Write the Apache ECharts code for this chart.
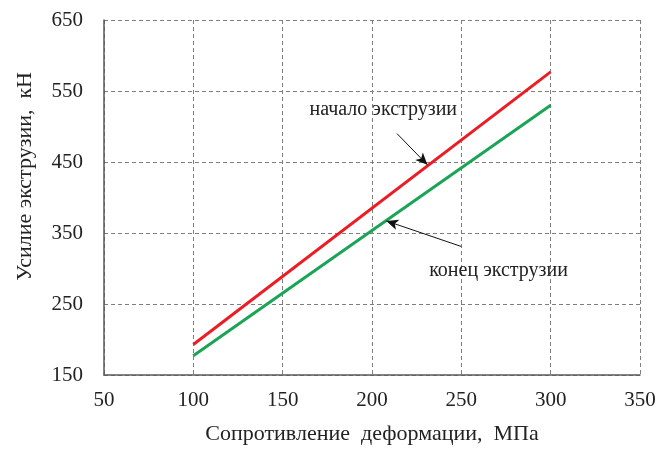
<!DOCTYPE html>
<html>
<head>
<meta charset="utf-8">
<script src="https://cdn.jsdelivr.net/npm/echarts@6/dist/echarts.min.js"></script>
<style>html,body{margin:0;padding:0;background:#fff}#c{width:659px;height:450px}</style>
</head>
<body>
<div id="c"></div>
<script>
var xValues = [100, 300];
var startForce = [193, 577];
var endForce = [177, 530];
var xTicks = [50, 350, 50];
var yTicks = [150, 650, 100];
var labelStart = 'начало экструзии';
var labelEnd = 'конец экструзии';
var xName = 'Сопротивление  деформации,  МПа';
var yName = 'Усилие экструзии,  кН';
var arrowStart = [[214, 490], [231, 446]];
var arrowEnd = [[250, 331], [208, 367]];
var textStartPos = [165, 523];
var textEndPos = [232, 297];

var font = 'Liberation Serif';
var chart = echarts.init(document.getElementById('c'), null, {renderer: 'canvas'});
function pairs(xs, ys) { return xs.map(function (x, i) { return [x, ys[i]]; }); }
var axisCommon = {
  axisLine: {show: true, lineStyle: {color: '#595959', width: 1.5}},
  axisTick: {show: false},
  splitLine: {show: true, lineStyle: {color: '#7f7f7f', type: [4, 3], width: 1}},
  axisLabel: {color: '#222', fontFamily: font, fontSize: 21},
  nameTextStyle: {color: '#222', fontFamily: font, fontSize: 22}
};
chart.setOption({
  animation: false,
  grid: {left: 104, right: 19, top: 20, bottom: 71, containLabel: false},
  graphic: [{
    type: 'text', left: 14, top: 72,
    rotation: Math.PI / 2,
    style: {text: yName, fill: '#222', font: '22px "Liberation Serif"'}
  }],
  xAxis: Object.assign({}, axisCommon, {
    type: 'value', min: xTicks[0], max: xTicks[1], interval: xTicks[2],
    name: xName, nameLocation: 'middle', nameGap: 48,
    axisLabel: Object.assign({}, axisCommon.axisLabel, {margin: 15})
  }),
  yAxis: Object.assign({}, axisCommon, {
    type: 'value', min: yTicks[0], max: yTicks[1], interval: yTicks[2],
    axisLabel: Object.assign({}, axisCommon.axisLabel, {margin: 21})
  }),
  series: [
    {
      type: 'line', data: pairs(xValues, startForce), showSymbol: false,
      lineStyle: {color: '#ec1c24', width: 3}, silent: true,
      markLine: {
        silent: true, symbol: ['none', 'arrow'], symbolSize: [8, 12],
        lineStyle: {color: '#111', width: 1, type: 'solid'}, label: {show: false},
        data: [[{coord: arrowStart[0]}, {coord: arrowStart[1]}]]
      },
      markPoint: {
        symbol: 'circle', symbolSize: 0, silent: true,
        label: {show: true, position: 'right', distance: 0, formatter: labelStart, color: '#222', fontFamily: font, fontSize: 20},
        data: [{coord: textStartPos}]
      }
    },
    {
      type: 'line', data: pairs(xValues, endForce), showSymbol: false,
      lineStyle: {color: '#1aa556', width: 3}, silent: true,
      markLine: {
        silent: true, symbol: ['none', 'arrow'], symbolSize: [8, 12],
        lineStyle: {color: '#111', width: 1, type: 'solid'}, label: {show: false},
        data: [[{coord: arrowEnd[0]}, {coord: arrowEnd[1]}]]
      },
      markPoint: {
        symbol: 'circle', symbolSize: 0, silent: true,
        label: {show: true, position: 'right', distance: 0, formatter: labelEnd, color: '#222', fontFamily: font, fontSize: 20},
        data: [{coord: textEndPos}]
      }
    }
  ]
});
</script>
</body>
</html>
